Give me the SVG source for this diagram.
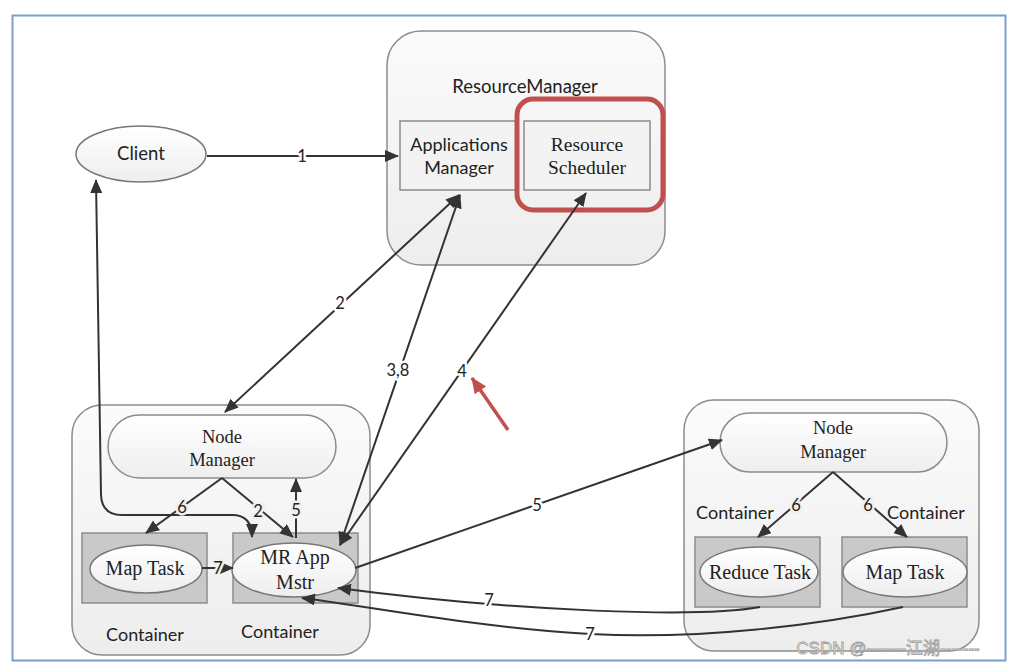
<svg xmlns="http://www.w3.org/2000/svg" width="1013" height="667" viewBox="0 0 1013 667">
<defs>
<linearGradient id="g" x1="0" y1="0" x2="0" y2="1"><stop offset="0" stop-color="#fbfbfb"/><stop offset="1" stop-color="#ededed"/></linearGradient>
<linearGradient id="gp" x1="0" y1="0" x2="0" y2="1"><stop offset="0" stop-color="#ffffff"/><stop offset="1" stop-color="#eeeeee"/></linearGradient>
<marker id="a" markerUnits="userSpaceOnUse" markerWidth="14" markerHeight="12" refX="13" refY="6" orient="auto-start-reverse"><path d="M0,0 L14,6 L0,12 z" fill="#333"/></marker>
<marker id="r" markerUnits="userSpaceOnUse" markerWidth="16" markerHeight="14" refX="15" refY="7" orient="auto"><path d="M0,0 L16,7 L0,14 z" fill="#c0504d"/></marker>
</defs>
<style>
.host{fill:url(#g);stroke:#8c8c8c;stroke-width:1.5}
.pill{fill:url(#gp);stroke:#8c8c8c;stroke-width:1.5}
.box{fill:#f3f3f3;stroke:#8c8c8c;stroke-width:1.5}
.cont{fill:#c9c9c9;stroke:#8c8c8c;stroke-width:1.5}
.ell{fill:url(#gp);stroke:#777;stroke-width:1.5}
.sans{font-family:Lato,"Liberation Sans",sans-serif;font-size:18px;fill:#222;text-anchor:middle}
.serif{font-family:"Liberation Serif",serif;font-size:18.5px;fill:#222;text-anchor:middle}
.big{font-size:20px}
.mid{font-size:19.5px}
.lg{font-size:18.5px}
.ln{fill:none;stroke:#333;stroke-width:2}
.lbl{font-family:Lato,"Liberation Sans",sans-serif;font-size:16.5px;fill:#222;text-anchor:middle;paint-order:stroke;stroke-width:5px;stroke-linejoin:round}
.w{stroke:#ffffff}.gy{stroke:#f0f0f0}
</style>
<rect x="12.5" y="15.5" width="993" height="645" fill="#fff" stroke="#7d9dd2" stroke-width="2"/>

<g id="resourcemanager">
<rect class="host" x="387" y="31" width="278" height="234" rx="34"/>
<text class="sans lg" x="525" y="93">ResourceManager</text>
</g>
<g id="applications-manager">
<rect class="box" x="400" y="121" width="116" height="69"/>
<text class="sans" x="459" y="151">Applications</text>
<text class="sans" x="459" y="174">Manager</text>
</g>
<g id="resource-scheduler">
<rect class="box" x="524" y="121" width="126" height="69"/>
<text class="serif mid" x="587" y="151">Resource</text>
<text class="serif mid" x="587" y="174">Scheduler</text>
<rect x="517" y="99" width="146" height="111" rx="16" fill="none" stroke="#c0504d" stroke-width="5"/>
</g>
<g id="client">
<ellipse class="ell" cx="141" cy="154" rx="65" ry="28"/>
<text class="sans lg" x="141" y="160">Client</text>
</g>

<g id="host-left">
<rect class="host" x="72" y="405" width="298" height="250" rx="30"/>
<text class="sans" x="145" y="641">Container</text>
<text class="sans" x="280" y="638">Container</text>
</g>
<g id="nodemanager-left">
<rect class="pill" x="108" y="415" width="228" height="63" rx="31.5"/>
<text class="serif" x="222" y="443">Node</text>
<text class="serif" x="222" y="466">Manager</text>
</g>
<g id="maptask-left">
<rect class="cont" x="82" y="533" width="125" height="70"/>
<ellipse class="ell" cx="146" cy="569" rx="56" ry="24"/>
<text class="serif big" x="145" y="575">Map Task</text>
</g>
<g id="mrappmstr">
<rect class="cont" x="233" y="533" width="125" height="70"/>
<ellipse class="ell" cx="294" cy="570" rx="62" ry="27"/>
<text class="serif big" x="295" y="564">MR App</text>
<text class="serif big" x="295" y="589">Mstr</text>
</g>

<g id="host-right">
<rect class="host" x="684" y="400" width="295" height="251" rx="30"/>
<text class="sans" x="735" y="519">Container</text>
<text class="sans" x="926" y="519">Container</text>
</g>
<g id="nodemanager-right">
<rect class="pill" x="720" y="413" width="227" height="59" rx="29.5"/>
<text class="serif" x="833" y="434">Node</text>
<text class="serif" x="833" y="458">Manager</text>
</g>
<g id="reducetask">
<rect class="cont" x="695" y="537" width="125" height="70"/>
<ellipse class="ell" cx="759" cy="572" rx="59" ry="25"/>
<text class="serif big" x="760" y="579">Reduce Task</text>
</g>
<g id="maptask-right">
<rect class="cont" x="842" y="537" width="125" height="70"/>
<ellipse class="ell" cx="905" cy="572" rx="62" ry="25"/>
<text class="serif big" x="905" y="579">Map Task</text>
</g>

<g id="connectors">
<path class="ln" d="M207,156 L398,156" marker-end="url(#a)"/>
<text class="lbl w" x="302" y="162">1</text>
<path class="ln" d="M225,412 L459,195" marker-start="url(#a)" marker-end="url(#a)"/>
<text class="lbl w" x="340" y="309">2</text>
<path class="ln" d="M340,545 L460,195" marker-start="url(#a)" marker-end="url(#a)"/>
<text class="lbl w" x="398" y="376">3,8</text>
<path class="ln" d="M340,545 L586,193" marker-start="url(#a)" marker-end="url(#a)"/>
<text class="lbl w" x="462" y="377">4</text>
<path class="ln" d="M355,568 L722,440" marker-end="url(#a)"/>
<text class="lbl w" x="537" y="511">5</text>
<path class="ln" d="M760,607 C700,618 520,612 338,588" marker-end="url(#a)"/>
<text class="lbl w" x="489" y="606">7</text>
<path class="ln" d="M903,607 C820,625 700,640 590,634 C480,628 360,605 302,598" marker-end="url(#a)"/>
<text class="lbl w" x="590" y="640">7</text>
<path class="ln" d="M202,568 L233,568" marker-end="url(#a)"/>
<text class="lbl gy" x="218" y="574">7</text>
<path class="ln" d="M96,180 L101,495 Q102,515 122,515 L232,515 Q252,515 252,537" marker-start="url(#a)" marker-end="url(#a)"/>
<path class="ln" d="M222,478 L146,533" marker-end="url(#a)"/>
<text class="lbl gy" x="182" y="513">6</text>
<path class="ln" d="M222,478 L293,537" marker-end="url(#a)"/>
<text class="lbl gy" x="258" y="517">2</text>
<path class="ln" d="M296,538 L296,479" marker-end="url(#a)"/>
<text class="lbl gy" x="296" y="516">5</text>
<path class="ln" d="M833,472 L758,537" marker-end="url(#a)"/>
<text class="lbl gy" x="796" y="511">6</text>
<path class="ln" d="M833,472 L907,537" marker-end="url(#a)"/>
<text class="lbl gy" x="868" y="511">6</text>
<path d="M508,430 L472,378" fill="none" stroke="#c0504d" stroke-width="3.5" marker-end="url(#r)"/>
</g>
<text x="888" y="654" font-family="'Liberation Sans','Noto Sans CJK SC',sans-serif" font-size="17" fill="#ffffff" stroke="#9a9a9a" stroke-width="0.8" text-anchor="middle">CSDN @-------江湖-------</text>
</svg>
